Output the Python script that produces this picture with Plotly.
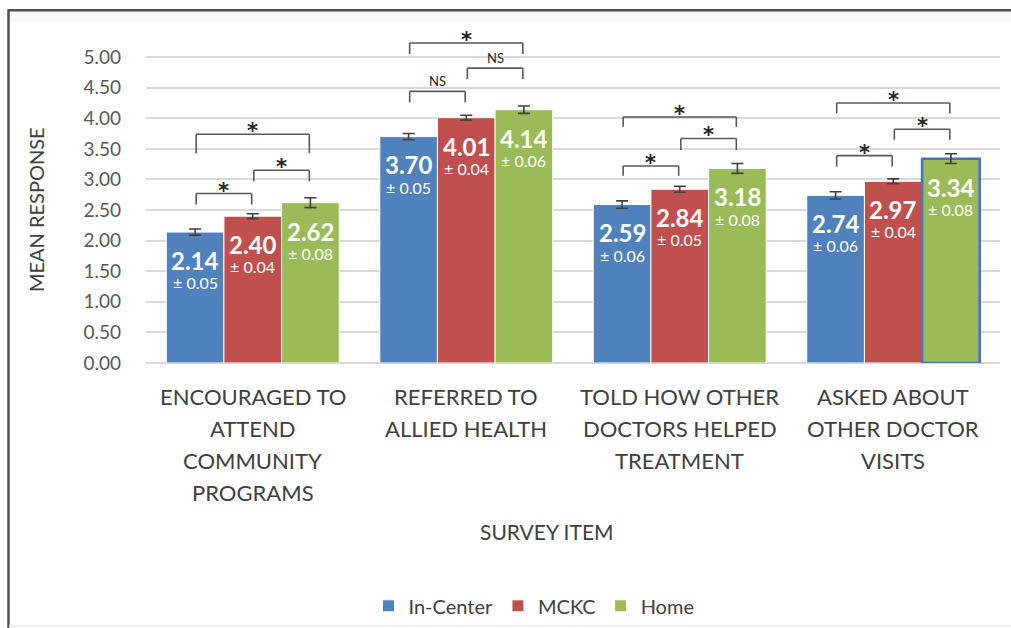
import plotly.graph_objects as go

# ---------------- data ----------------
categories = ["ENCOURAGED TO ATTEND COMMUNITY PROGRAMS", "REFERRED TO ALLIED HEALTH",
              "TOLD HOW OTHER DOCTORS HELPED TREATMENT", "ASKED ABOUT OTHER DOCTOR VISITS"]
category_lines = [["ENCOURAGED TO", "ATTEND", "COMMUNITY", "PROGRAMS"],
                  ["REFERRED TO", "ALLIED HEALTH"],
                  ["TOLD HOW OTHER", "DOCTORS HELPED", "TREATMENT"],
                  ["ASKED ABOUT", "OTHER DOCTOR", "VISITS"]]
series_names = ["In-Center", "MCKC", "Home"]
in_center = [2.14, 3.70, 2.59, 2.74]
mckc = [2.40, 4.01, 2.84, 2.97]
home = [2.62, 4.14, 3.18, 3.34]
in_center_err = [0.05, 0.05, 0.06, 0.06]
mckc_err = [0.04, 0.04, 0.05, 0.04]
home_err = [0.08, 0.06, 0.08, 0.08]
y_ticks = [0, 0.5, 1, 1.5, 2, 2.5, 3, 3.5, 4, 4.5, 5]

# significance brackets: (category index, bar a, bar b, level, leg, label)
brackets = [
    (0, 0, 1, 2.77, 0.18, "*"), (0, 1, 2, 3.15, 0.18, "*"), (0, 0, 2, 3.74, 0.31, "*"),
    (1, 0, 1, 4.44, 0.18, "NS"), (1, 1, 2, 4.82, 0.18, "NS"), (1, 0, 2, 5.23, 0.18, "*"),
    (2, 0, 1, 3.22, 0.16, "*"), (2, 1, 2, 3.67, 0.19, "*"), (2, 0, 2, 4.02, 0.16, "*"),
    (3, 0, 1, 3.39, 0.18, "*"), (3, 1, 2, 3.82, 0.17, "*"), (3, 0, 2, 4.25, 0.17, "*"),
]

colors = ["#4F81BD", "#C0504D", "#9BBB59"]
values = [in_center, mckc, home]
errors = [in_center_err, mckc_err, home_err]

# ---------------- layout geometry ----------------
W = 1011
H_REF = 628          # reference picture height
H = 636              # rendered page height (viewport is scaled to the picture)
F = H / H_REF


def sy(py):
    return py * F


L, R = 146, 11
T = round(sy(27))
B = H - round(sy(362))
PW, PH = W - L - R, H - T - B
Y_MAX = (sy(362) - sy(27)) / (61.0 * F)
BARGAP = 0.19
BAR_W = (1 - BARGAP) / 3
offsets = [-BAR_W, 0, BAR_W]
FONT = "Lato"
TXT = "#404040"


def px_x(px):
    return (px - L) / PW


def px_y(py):
    return (H - B - sy(py)) / PH


fig = go.Figure()
for k in range(3):
    line_colors = ["white"] * 4
    line_widths = [1] * 4
    if k == 2:
        line_colors[3] = "#4472C4"
        line_widths[3] = 2.5
    fig.add_trace(go.Bar(
        x=categories, y=values[k], name=series_names[k],
        marker=dict(color=colors[k], line=dict(color=line_colors, width=line_widths)),
        error_y=dict(type="data", array=errors[k], color="#404040", thickness=1.6, width=6),
    ))

annotations = []
shapes = []

# value labels inside bars
for k in range(3):
    for i in range(4):
        annotations.append(dict(x=i + offsets[k], y=values[k][i], xref="x", yref="y",
                                text="<b>%.2f</b>" % values[k][i], showarrow=False,
                                yanchor="middle", yshift=-28 * F,
                                font=dict(family=FONT, size=24, color="white")))
        annotations.append(dict(x=i + offsets[k], y=values[k][i], xref="x", yref="y",
                                text="± %.2f" % errors[k][i], showarrow=False,
                                yanchor="middle", yshift=-50 * F,
                                font=dict(family=FONT, size=16, color="white")))

# brackets
bc = "#595959"
for (i, a, b, lvl, leg, lab) in brackets:
    xa = i + offsets[a] + 0.005
    xb = i + offsets[b] - 0.005
    for (x0, y0, x1, y1) in [(xa, lvl - leg, xa, lvl), (xa, lvl, xb, lvl), (xb, lvl, xb, lvl - leg)]:
        shapes.append(dict(type="line", xref="x", yref="y", x0=x0, y0=y0, x1=x1, y1=y1,
                           line=dict(color=bc, width=1.6)))
    if lab == "*":
        annotations.append(dict(x=(xa + xb) / 2, y=lvl, xref="x", yref="y", text="<b>*</b>",
                                showarrow=False, yanchor="middle", yshift=3,
                                font=dict(family="DejaVu Sans", size=21, color="#262626")))
    else:
        annotations.append(dict(x=(xa + xb) / 2, y=lvl, xref="x", yref="y", text=lab,
                                showarrow=False, yanchor="middle", yshift=10,
                                font=dict(family=FONT, size=13, color="#262626")))

# category labels (one annotation per line)
for i, lines in enumerate(category_lines):
    for j, t in enumerate(lines):
        annotations.append(dict(x=i, y=px_y(396 + 32 * j), xref="x", yref="paper", text=t,
                                showarrow=False, yanchor="middle",
                                font=dict(family=FONT, size=22, color=TXT)))

# axis titles
annotations.append(dict(x=px_x(547), y=px_y(531), xref="paper", yref="paper", text="SURVEY ITEM",
                        showarrow=False, yanchor="middle", xanchor="center",
                        font=dict(family=FONT, size=21, color=TXT)))
annotations.append(dict(x=px_x(36), y=2.5, xref="paper", yref="y", text="MEAN RESPONSE",
                        showarrow=False, textangle=-90, xanchor="center", yanchor="middle",
                        font=dict(family=FONT, size=20, color=TXT)))

# frame decoration
shapes.append(dict(type="rect", xref="paper", yref="paper", x0=px_x(9), x1=px_x(W + 2),
                   y0=px_y(22), y1=px_y(11), fillcolor="#F7F7F7", line=dict(width=0), layer="below"))
shapes.append(dict(type="line", xref="paper", yref="paper", x0=px_x(8), x1=px_x(W + 2),
                   y0=px_y(10), y1=px_y(10), line=dict(color="#505050", width=2.5)))
shapes.append(dict(type="line", xref="paper", yref="paper", x0=px_x(8.5), x1=px_x(8.5),
                   y0=px_y(9), y1=px_y(H_REF + 8), line=dict(color="#505050", width=2.5)))
shapes.append(dict(type="line", xref="paper", yref="paper", x0=px_x(9), x1=px_x(W + 2),
                   y0=px_y(625.5), y1=px_y(625.5), line=dict(color="#EEEEEE", width=2)))

fig.update_layout(
    width=W, height=H,
    margin=dict(l=L, r=R, t=T, b=B, pad=0),
    paper_bgcolor="white", plot_bgcolor="white",
    barmode="group", bargap=BARGAP, bargroupgap=0,
    font=dict(family=FONT, color=TXT),
    showlegend=True,
    legend=dict(orientation="h", x=px_x(534), xanchor="center", y=px_y(605), yanchor="middle",
                font=dict(family=FONT, size=20, color=TXT), itemwidth=30, traceorder="normal"),
    annotations=annotations,
    shapes=shapes,
    xaxis=dict(showticklabels=False, showline=False, showgrid=False, zeroline=False, ticks="",
               range=[-0.5, 3.5]),
    yaxis=dict(range=[0, Y_MAX], tickvals=y_ticks, ticktext=["%.2f" % v for v in y_ticks],
               showgrid=True, gridcolor="#D9D9D9", gridwidth=1.5, zeroline=True,
               zerolinecolor="#D9D9D9", zerolinewidth=1.5, showline=False,
               tickfont=dict(family=FONT, size=19, color="#595959"), ticklabelstandoff=24),
)

fig.write_html(
    "out.html",
    config={"displayModeBar": False},
    post_script=("document.documentElement.style.margin='0';"
                 "document.documentElement.style.overflow='hidden';"
                 "document.body.style.margin='0';"
                 "document.body.style.overflow='hidden';"),
)
